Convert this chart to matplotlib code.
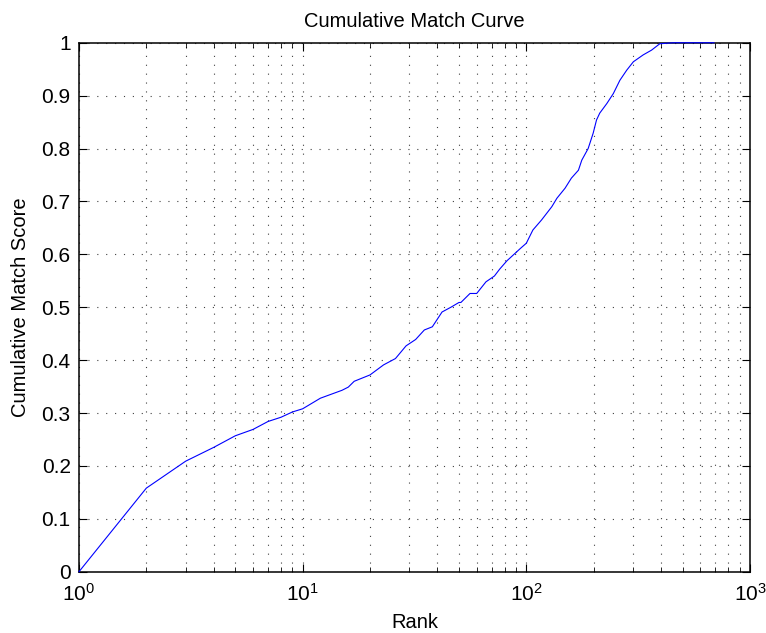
import matplotlib
matplotlib.use('Agg')
import matplotlib.pyplot as plt
from matplotlib.ticker import LogLocator, NullFormatter

# valores (rango, puntuacion acumulada)
rangos = [1, 2, 3, 4, 5, 6, 7, 8, 9, 10, 12, 15, 16, 17, 20, 23, 26, 29, 32, 35,
          38, 42, 46, 50, 51, 56, 60, 66, 72, 76, 82, 84, 94, 100, 107, 117, 130,
          137, 149, 159, 171, 177, 189, 199, 206, 213, 229, 245, 262, 281, 301,
          333, 363, 395, 454, 690]
puntuaciones = [0.0, 0.158, 0.209, 0.235, 0.257, 0.269, 0.284, 0.292, 0.302, 0.308,
                0.328, 0.343, 0.349, 0.360, 0.372, 0.391, 0.403, 0.427, 0.439, 0.457,
                0.463, 0.491, 0.500, 0.509, 0.509, 0.526, 0.526, 0.548, 0.559, 0.572,
                0.588, 0.592, 0.611, 0.621, 0.646, 0.665, 0.690, 0.706, 0.725, 0.744,
                0.759, 0.778, 0.800, 0.829, 0.854, 0.867, 0.885, 0.904, 0.929, 0.948,
                0.964, 0.977, 0.986, 0.998, 1.0, 1.0]

ticks_y = [0, 0.1, 0.2, 0.3, 0.4, 0.5, 0.6, 0.7, 0.8, 0.9, 1]
etiquetas_y = ['0', '0.1', '0.2', '0.3', '0.4', '0.5', '0.6', '0.7', '0.8', '0.9', '1']

titulo = 'Cumulative Match Curve'
etiqueta_x = 'Rank'
etiqueta_y = 'Cumulative Match Score'

plt.rcParams['font.family'] = ['Liberation Sans', 'DejaVu Sans']
plt.rcParams['mathtext.fontset'] = 'custom'
plt.rcParams['mathtext.rm'] = 'Liberation Sans'
plt.rcParams['mathtext.it'] = 'Liberation Sans'

fig = plt.figure(figsize=(7.66, 6.33), dpi=100)
ax = fig.add_axes([0.1031, 0.0968, 0.876, 0.8357])

# la curva se dibuja por encima del borde para que se vea el tramo en 1
ax.plot(rangos, puntuaciones, color='#0000ff', linewidth=0.8, clip_on=False, zorder=5)

ax.set_xscale('log')
ax.set_xlim(1, 1000)
ax.set_ylim(0, 1)
ax.set_yticks(ticks_y)
ax.set_yticklabels(etiquetas_y)
ax.xaxis.set_minor_locator(LogLocator(base=10, subs=range(2, 10)))
ax.xaxis.set_minor_formatter(NullFormatter())

# rejilla punteada estilo matlab
estilo = dict(color='0.25', linewidth=0.8, linestyle=(0, (1, 7)))
ax.grid(True, which='major', axis='both', **estilo)
ax.grid(True, which='minor', axis='x', **estilo)

ax.tick_params(which='both', direction='in', top=True, right=True, labelsize=15, pad=6)
ax.tick_params(which='major', length=6, width=0.8)
ax.tick_params(which='minor', length=3.5, width=0.6)
ax.tick_params(axis='x', which='major', pad=8)
for s in ax.spines.values():
    s.set_linewidth(1.1)

ax.set_title(titulo, fontsize=14.5, pad=11)
ax.set_xlabel(etiqueta_x, fontsize=14.5, labelpad=6)
ax.set_ylabel(etiqueta_y, fontsize=14.5, labelpad=8)

fig.savefig('out.png', dpi=100)
